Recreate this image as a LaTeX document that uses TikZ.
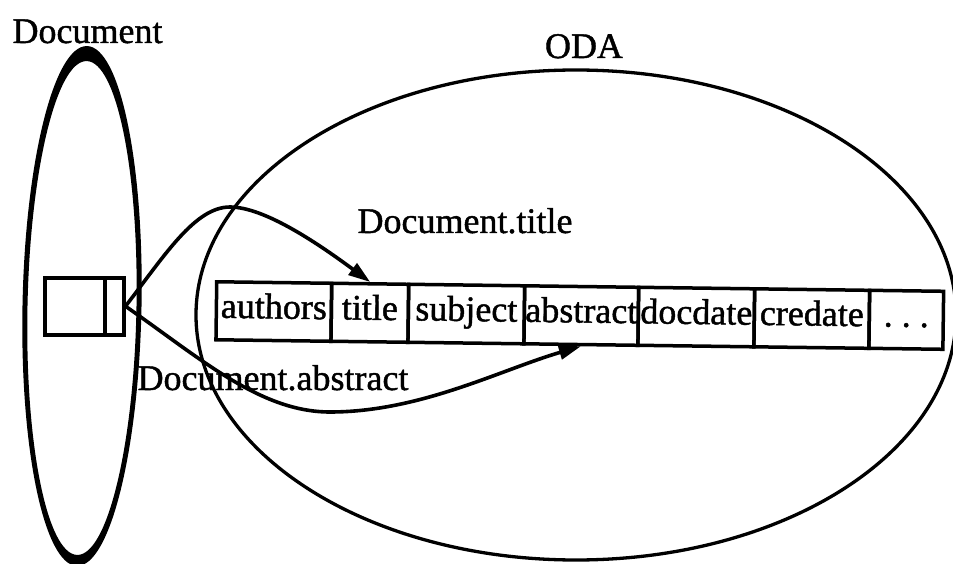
\documentclass[tikz,border=0pt]{standalone}
\usepackage{fontspec}
\setmainfont{Liberation Serif}[BoldFont={Liberation Serif}, BoldFeatures={FakeBold=1.2}]
\usetikzlibrary{arrows.meta}
\begin{document}
\begin{tikzpicture}[x=1pt,y=-1pt,
  lab/.style={font=\fontsize{36}{40}\selectfont\bfseries, inner sep=0pt, anchor=base},
  cell/.style={draw, line width=3.5pt, minimum height=58pt, inner sep=0pt,
    text height=24pt, text depth=10pt, anchor=north west, font=\fontsize{36}{40}\selectfont\bfseries},
  conn/.style={line width=3.6pt, -{Triangle[length=22pt,width=14pt]}},
  boxpart/.style={draw, line width=3.5pt, minimum height=57pt, inner sep=0pt, anchor=north west}
]
\useasboundingbox (0,0) rectangle (953,564);

% Document ellipse (variable thickness)
\fill[even odd rule, rotate around={-1.1:(82,306)}]
  (82,306) ellipse [x radius=59.5, y radius=260]
  (82,308) ellipse [x radius=54.5, y radius=247];

% ODA ellipse
\draw[line width=3.3pt] (576,315) ellipse [x radius=380, y radius=245];

% labels
\node[lab] (doclab) at (87.5,43) {Document};
\node[lab] (odalab) at (584,58) {ODA};
\node[lab] (titlelab) at (465,233) {Document.title};
\node[lab] (abslab) at (273,390) {Document.abstract};

% small document box
\node[boxpart, minimum width=60pt] (docbox) at (43,276) {};
\node[boxpart, minimum width=19pt] (ptr) at (103,276) {};

% attribute row
\begin{scope}[rotate around={-0.75:(215,280)}, transform shape]
\node[cell, minimum width=115pt] (authors) at (215,280) {authors};
\node[cell, minimum width=77pt]  (title)   at (330,280) {title};
\node[cell, minimum width=116pt] (subject) at (407,280) {subject};
\node[cell, minimum width=114pt] (abstract) at (523,280) {abstract};
\node[cell, minimum width=116pt] (docdate) at (637,280) {docdate};
\node[cell, minimum width=115pt] (credate) at (753,280) {credate};
\node[cell, minimum width=74pt]  (dots)    at (868,280) {.\ .\ .};
\end{scope}

% connectors
\draw[conn] (ptr.east) .. controls (165,255) and (195,207) .. (230,207)
  .. controls (265,207) and (320,245) .. (title.north);
\draw[conn] (ptr.east) .. controls (200,358) and (260,412) .. (330,412)
  .. controls (420,412) and (500,370) .. (abstract.south);
\end{tikzpicture}
\end{document}
